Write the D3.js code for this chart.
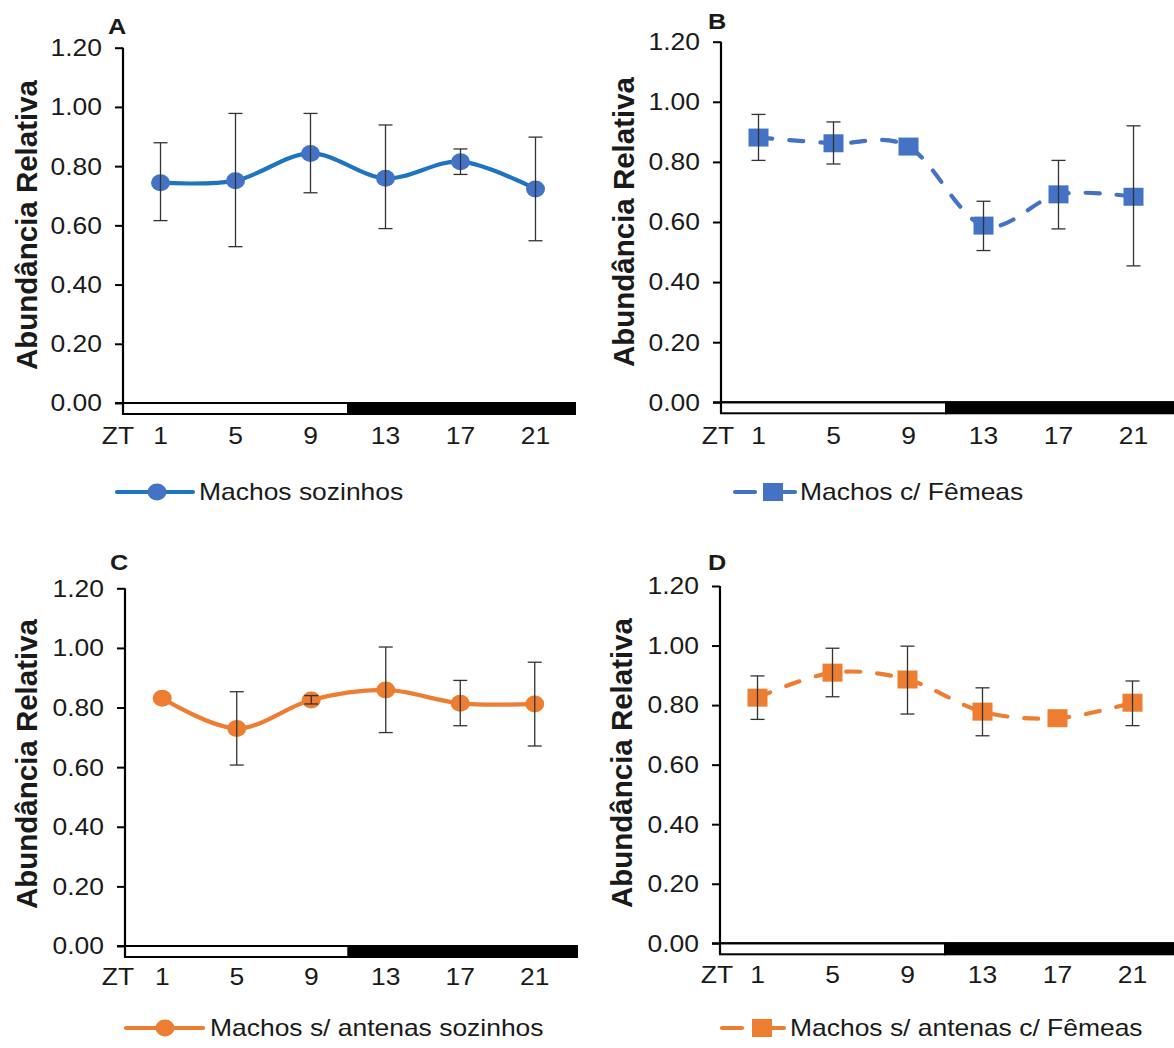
<!DOCTYPE html>
<html><head><meta charset="utf-8">
<script src="https://cdn.jsdelivr.net/npm/d3@7"></script>
<style>
html,body{margin:0;padding:0;background:#fff;}
svg{display:block;}
text{font-family:"Liberation Sans",Arial,sans-serif;fill:#1a1a1a;}
</style></head>
<body>
<svg id="chart" width="1174" height="1048"></svg>
<script>
// ---- data ----
const ztLabels = ["1","5","9","13","17","21"];
const yTickValues = [0, 0.2, 0.4, 0.6, 0.8, 1.0, 1.2];

const valuesA = [0.744, 0.751, 0.843, 0.759, 0.815, 0.723];
const lowA    = [0.616, 0.528, 0.710, 0.589, 0.772, 0.548];
const highA   = [0.879, 0.978, 0.978, 0.939, 0.858, 0.898];

const valuesB = [0.881, 0.862, 0.851, 0.588, 0.692, 0.684];
const lowB    = [0.805, 0.793, null, 0.505, 0.577, 0.454];
const highB   = [0.958, 0.933, null, 0.669, 0.805, 0.920];

const valuesC = [0.831, 0.730, 0.825, 0.859, 0.814, 0.812];
const lowC    = [null, 0.607, 0.812, 0.716, 0.739, 0.671];
const highC   = [null, 0.853, 0.840, 1.003, 0.891, 0.952];

const valuesD = [0.825, 0.909, 0.886, 0.778, 0.756, 0.808];
const lowD    = [0.752, 0.828, 0.770, 0.697, null, 0.731];
const highD   = [0.898, 0.991, 0.998, 0.858, null, 0.881];

const letters = ["A","B","C","D"];
const legendNames = ["Machos sozinhos","Machos c/ Fêmeas","Machos s/ antenas sozinhos","Machos s/ antenas c/ Fêmeas"];
const yLabel = "Abundância Relativa";
const xPrefix = "ZT";

// ---- layout / style ----
const SX = 1.15; // horizontal stretch of the original figure
const panels = [
  {vals:valuesA, lo:lowA, hi:highA, x0:123, x1:573, yTop:47.7, yBot:403, barEnd:575,
   lineColor:"#1f74c1", markColor:"#4472c4", marker:"circle", dashed:false,
   letterX:117, letterY:27, ylabX:27, ylabY:225, ztX:118, labY:436,
   leg:{y:492, lx0:117, lx1:193, mx:157, tx:199}},
  {vals:valuesB, lo:lowB, hi:highB, x0:721, x1:1171, yTop:41.7, yBot:402.3, barEnd:1180,
   lineColor:"#4472c4", markColor:"#4472c4", marker:"square", dashed:true,
   letterX:717, letterY:22, ylabX:624, ylabY:222, ztX:718, labY:436,
   leg:{y:492, lx0:735, lx1:795, mx:773, tx:800}},
  {vals:valuesC, lo:lowC, hi:highC, x0:125, x1:572, yTop:588.3, yBot:946, barEnd:577,
   lineColor:"#ed7d31", markColor:"#ed7d31", marker:"circle", dashed:false,
   letterX:119, letterY:563, ylabX:27, ylabY:764, ztX:118, labY:977,
   leg:{y:1028, lx0:126, lx1:203, mx:165, tx:210}},
  {vals:valuesD, lo:lowD, hi:highD, x0:720, x1:1170, yTop:586, yBot:943.3, barEnd:1180,
   lineColor:"#ed7d31", markColor:"#ed7d31", marker:"square", dashed:true,
   letterX:717, letterY:563, ylabX:622, ylabY:763, ztX:717, labY:975,
   leg:{y:1028, lx0:722, lx1:784, mx:762, tx:790}}
];

const svg = d3.select("#chart");

function stretchText(sel, x, y){
  return sel.attr("transform", `translate(${x},${y}) scale(${SX},1)`);
}

panels.forEach((p, i) => {
  const g = svg.append("g");
  const x = d3.scaleBand().domain(ztLabels).range([p.x0, p.x1]);
  const y = d3.scaleLinear().domain([0, 1.2]).range([p.yBot, p.yTop]);
  const cx = k => x(ztLabels[k]) + x.bandwidth()/2;

  // light/dark bar under the axis
  const barH = 11;
  const whiteEnd = p.x0 + x.bandwidth()*3;
  g.append("rect").attr("x", p.x0).attr("y", y(0)).attr("width", whiteEnd - p.x0).attr("height", barH)
    .attr("fill", "#fff").attr("stroke", "#000").attr("stroke-width", 2);
  g.append("rect").attr("x", whiteEnd).attr("y", y(0)).attr("width", p.barEnd - whiteEnd).attr("height", barH)
    .attr("fill", "#000").attr("stroke", "#000").attr("stroke-width", 2);

  // y axis
  const yAxis = d3.axisLeft(y).tickValues(yTickValues).tickFormat(d3.format(".2f")).tickSize(8).tickPadding(13);
  const ya = g.append("g").attr("transform", `translate(${p.x0},0)`).call(yAxis);
  ya.select(".domain").attr("stroke", "#000").attr("stroke-width", 2.2).attr("d", `M0,${y(1.2)}V${y(0)+barH}`);
  ya.selectAll(".tick line").attr("stroke", "#000").attr("stroke-width", 2);
  ya.selectAll(".tick text")
    .attr("x", null).attr("dy", null)
    .attr("font-size", 23).attr("font-family", "Liberation Sans, Arial, sans-serif").attr("fill", "#1a1a1a")
    .attr("dominant-baseline", "central")
    .attr("transform", `translate(-21,0) scale(${SX},1)`);

  // x axis baseline at 0
  g.append("line").attr("x1", p.x0 - 8).attr("x2", p.barEnd).attr("y1", y(0)).attr("y2", y(0))
    .attr("stroke", "#000").attr("stroke-width", 2);

  // x tick labels
  const xAxis = d3.axisBottom(x).tickSize(0).tickPadding(0);
  const xa = g.append("g").attr("transform", `translate(0,${p.labY})`).call(xAxis);
  xa.select(".domain").remove();
  xa.selectAll(".tick text")
    .attr("y", null).attr("dy", null)
    .attr("font-size", 23).attr("font-family", "Liberation Sans, Arial, sans-serif").attr("fill", "#1a1a1a")
    .attr("dominant-baseline", "central")
    .attr("transform", `scale(${SX},1)`);
  stretchText(g.append("text").text(xPrefix).attr("font-size", 23).attr("text-anchor", "middle")
    .attr("dominant-baseline", "central"), p.ztX, p.labY);

  // y label
  g.append("text").text(yLabel)
    .attr("font-size", 26).attr("font-weight", "bold").attr("text-anchor", "middle")
    .attr("dominant-baseline", "central")
    .attr("textLength", 290).attr("lengthAdjust", "spacingAndGlyphs")
    .attr("transform", `translate(${p.ylabX},${p.ylabY}) rotate(-90) scale(1,${SX})`);

  // panel letter
  stretchText(g.append("text").text(letters[i]).attr("font-size", 22).attr("font-weight", "bold")
    .attr("text-anchor", "middle").attr("dominant-baseline", "central"), p.letterX, p.letterY);

  // series line
  const pts = p.vals.map((v, k) => [cx(k), y(v)]);
  const line = d3.line().curve(d3.curveCardinal.tension(0));
  const path = g.append("path").attr("d", line(pts)).attr("fill", "none")
    .attr("stroke", p.lineColor).attr("stroke-width", 4.2);
  if (p.dashed) path.attr("stroke-dasharray", "14,17").attr("stroke-linecap", "round");
  else path.attr("stroke-linecap", "round");

  // markers
  function drawMarker(sel, mx, my){
    if (p.marker === "circle") {
      sel.append("ellipse").attr("cx", mx).attr("cy", my).attr("rx", 9.5).attr("ry", 8.5).attr("fill", p.markColor);
    } else {
      sel.append("rect").attr("x", mx - 10).attr("y", my - 9).attr("width", 20).attr("height", 18).attr("fill", p.markColor);
    }
  }
  p.vals.forEach((v, k) => drawMarker(g, cx(k), y(v)));

  // error bars
  p.vals.forEach((v, k) => {
    if (p.lo[k] == null) return;
    const ex = cx(k), yl = y(p.lo[k]), yh = y(p.hi[k]);
    const eg = g.append("g").attr("stroke", "#333").attr("stroke-width", 1.3);
    eg.append("line").attr("x1", ex).attr("x2", ex).attr("y1", yh).attr("y2", yl);
    eg.append("line").attr("x1", ex - 7).attr("x2", ex + 7).attr("y1", yh).attr("y2", yh);
    eg.append("line").attr("x1", ex - 7).attr("x2", ex + 7).attr("y1", yl).attr("y2", yl);
  });

  // legend
  const L = p.leg;
  if (p.dashed) {
    g.append("line").attr("x1", L.lx0).attr("x2", L.lx0 + 20).attr("y1", L.y).attr("y2", L.y)
      .attr("stroke", p.lineColor).attr("stroke-width", 4.2).attr("stroke-linecap", "round");
    g.append("line").attr("x1", L.mx).attr("x2", L.lx1).attr("y1", L.y).attr("y2", L.y)
      .attr("stroke", p.lineColor).attr("stroke-width", 4.2).attr("stroke-linecap", "round");
  } else {
    g.append("line").attr("x1", L.lx0).attr("x2", L.lx1).attr("y1", L.y).attr("y2", L.y)
      .attr("stroke", p.lineColor).attr("stroke-width", 4.2).attr("stroke-linecap", "round");
  }
  drawMarker(g, L.mx, L.y);
  stretchText(g.append("text").text(legendNames[i]).attr("font-size", 23)
    .attr("dominant-baseline", "central"), L.tx, L.y);
});
</script>
</body></html>
